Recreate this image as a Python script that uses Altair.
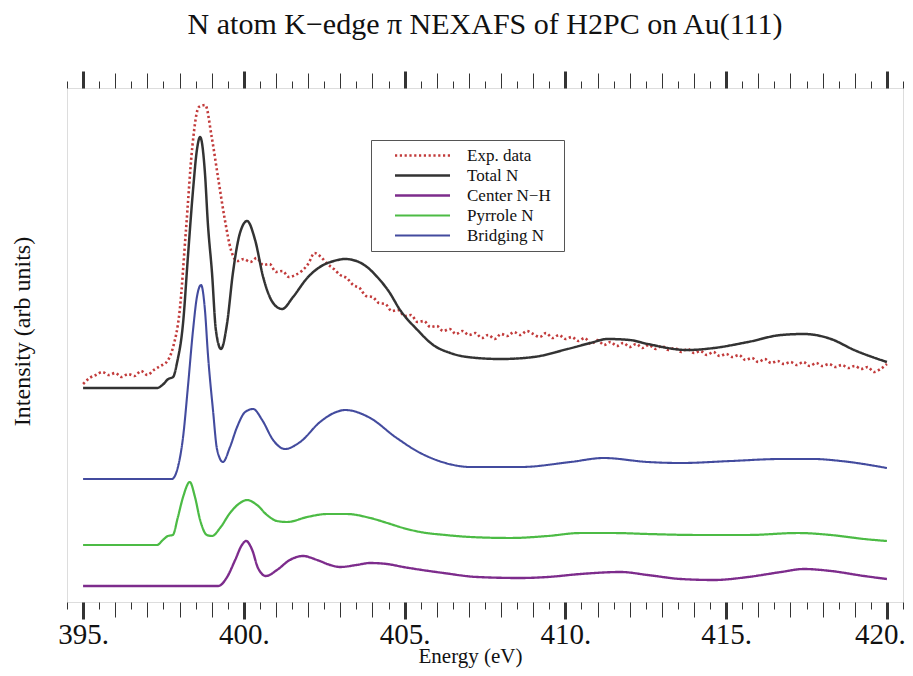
import altair as alt
import pandas as pd

TITLE = "N atom K\u2212edge \u03c0 NEXAFS of H2PC on Au(111)"
X_TITLE = "Energy (eV)"
Y_TITLE = "Intensity (arb units)"

SERIES = ["Exp. data", "Total N", "Center N\u2212H", "Pyrrole N", "Bridging N"]
COLORS = ["#c23b3b", "#333333", "#7d2c8c", "#4cbb45", "#434b9e"]
DASHES = [[2.2, 2.6], [1, 0], [1, 0], [1, 0], [1, 0]]
WIDTHS = [2.6, 2.1, 2.1, 2.1, 2.1]

# Experimental data (sampled every 0.2 eV from 395.0 eV)
exp_intensity = [
    2.18, 2.24, 2.27, 2.30, 2.27, 2.29, 2.25, 2.28, 2.26, 2.31,
    2.27, 2.32, 2.36, 2.40, 2.55, 2.90, 3.72, 4.56, 4.95, 4.97,
    4.65, 4.24, 3.84, 3.52, 3.41, 3.43, 3.40, 3.44, 3.37, 3.38,
    3.30, 3.31, 3.25, 3.27, 3.31, 3.38, 3.49, 3.45, 3.38, 3.33,
    3.27, 3.24, 3.17, 3.14, 3.06, 3.05, 2.99, 2.98, 2.91, 2.92,
    2.86, 2.87, 2.80, 2.81, 2.75, 2.76, 2.71, 2.73, 2.68, 2.71,
    2.67, 2.69, 2.64, 2.67, 2.63, 2.68, 2.66, 2.70, 2.67, 2.71,
    2.68, 2.65, 2.69, 2.64, 2.67, 2.63, 2.65, 2.61, 2.64, 2.58,
    2.62, 2.57, 2.60, 2.56, 2.59, 2.55, 2.58, 2.54, 2.57, 2.53,
    2.56, 2.52, 2.54, 2.50, 2.53, 2.49, 2.51, 2.47, 2.50, 2.46,
    2.48, 2.45, 2.47, 2.42, 2.44, 2.40, 2.43, 2.39, 2.41, 2.38,
    2.40, 2.37, 2.40, 2.36, 2.39, 2.36, 2.38, 2.35, 2.37, 2.34,
    2.36, 2.33, 2.35, 2.30, 2.33, 2.38,
]
exp_energy = [round(395.0 + 0.2 * i, 1) for i in range(len(exp_intensity))]

total_energy = [395.0, 397.3, 397.5, 397.65, 397.8, 397.92, 398.11, 398.26, 398.42, 398.54,
                398.64, 398.79, 398.88, 399.01, 399.13, 399.29, 399.48, 399.66, 399.88, 400.10,
                400.35, 400.60, 400.91, 401.19, 401.53, 401.97, 402.47, 402.8, 403.15, 403.5,
                403.83, 404.15, 404.5, 404.86, 405.40, 405.89, 406.42, 406.95, 407.98, 409.01,
                410.07, 410.78, 411.31, 412.0, 412.56, 413.80, 414.62, 415.68, 416.71, 417.42,
                418.26, 418.98, 420.0]
total_intensity = [2.14, 2.14, 2.18, 2.23, 2.25, 2.39, 2.79, 3.45, 4.12, 4.52,
                   4.65, 4.29, 3.79, 3.29, 2.72, 2.53, 2.79, 3.29, 3.69, 3.81,
                   3.62, 3.25, 2.99, 2.93, 3.05, 3.24, 3.37, 3.41, 3.43, 3.41,
                   3.35, 3.25, 3.11, 2.92, 2.72, 2.57, 2.49, 2.45, 2.43, 2.45,
                   2.53, 2.59, 2.63, 2.62, 2.58, 2.52, 2.54, 2.60, 2.67, 2.68,
                   2.63, 2.52, 2.40]

center_energy = [395.0, 399.20, 399.48, 399.73, 399.94, 400.07, 400.26, 400.44, 400.69, 401.03,
                 401.43, 401.84, 402.28, 402.69, 403.0, 403.5, 403.93, 404.45, 404.96, 406.21,
                 407.26, 408.60, 409.45, 410.47, 411.72, 412.56, 413.59, 414.62, 415.68, 416.71,
                 417.42, 418.26, 419.29, 420.0]
center_intensity = [0.16, 0.16, 0.25, 0.42, 0.57, 0.61, 0.52, 0.34, 0.26, 0.32,
                    0.42, 0.46, 0.42, 0.37, 0.35, 0.37, 0.39, 0.38, 0.35, 0.29,
                    0.25, 0.24, 0.25, 0.28, 0.30, 0.27, 0.23, 0.22, 0.25, 0.30,
                    0.33, 0.31, 0.26, 0.23]

pyrrole_energy = [395.0, 397.3, 397.48, 397.64, 397.79, 397.95, 398.11, 398.32, 398.48, 398.64,
                  398.85, 399.01, 399.26, 399.57, 399.88, 400.10, 400.41, 400.72, 401.03, 401.35,
                  401.97, 402.59, 403.2, 403.93, 404.46, 404.96, 405.49, 406.27, 407.05, 408.29,
                  409.45, 410.47, 411.50, 412.56, 414.12, 415.68, 417.23, 418.26, 419.29, 420.0]
pyrrole_intensity = [0.57, 0.57, 0.62, 0.66, 0.67, 0.85, 1.05, 1.20, 1.05, 0.82,
                     0.67, 0.66, 0.74, 0.89, 0.99, 1.02, 0.97, 0.87, 0.81, 0.80,
                     0.85, 0.88, 0.88, 0.84, 0.79, 0.74, 0.70, 0.67, 0.65, 0.64,
                     0.66, 0.69, 0.69, 0.68, 0.67, 0.67, 0.69, 0.67, 0.63, 0.61]

bridging_energy = [395.0, 397.76, 397.95, 398.11, 398.26, 398.42, 398.54, 398.67, 398.79, 398.88,
                   399.04, 399.17, 399.35, 399.57, 399.79, 400.04, 400.29, 400.57, 400.91, 401.28,
                   401.75, 402.37, 402.8, 403.15, 403.93, 404.71, 405.49, 406.27, 407.05, 408.60,
                   410.16, 411.19, 412.56, 413.59, 415.15, 416.71, 417.73, 418.57, 420.0]
bridging_intensity = [1.23, 1.23, 1.35, 1.65, 2.15, 2.72, 3.05, 3.17, 2.92, 2.49,
                      1.92, 1.52, 1.40, 1.55, 1.75, 1.90, 1.93, 1.82, 1.62, 1.53,
                      1.60, 1.80, 1.89, 1.92, 1.84, 1.65, 1.49, 1.39, 1.35, 1.35,
                      1.40, 1.44, 1.40, 1.39, 1.41, 1.43, 1.43, 1.41, 1.34]

X_DOMAIN = [394.5, 420.5]
Y_DOMAIN = [0, 5.14]
TICK_VALUES = [394.5 + 0.5 * i for i in range(53)]

rows = []
for name, es, vs in [
    (SERIES[0], exp_energy, exp_intensity),
    (SERIES[1], total_energy, total_intensity),
    (SERIES[2], center_energy, center_intensity),
    (SERIES[3], pyrrole_energy, pyrrole_intensity),
    (SERIES[4], bridging_energy, bridging_intensity),
]:
    for e, v in zip(es, vs):
        rows.append({"series": name, "energy": e, "intensity": v})
df = pd.DataFrame(rows)

FONT = "Liberation Serif"
tick_size = {"condition": [{"test": "datum.value % 5 === 0", "value": 17},
                           {"test": "datum.value % 1 === 0", "value": 15}],
             "value": 7}
tick_width = {"condition": {"test": "datum.value % 5 === 0", "value": 3}, "value": 1}
label_offset = {"condition": {"test": "datum.value === 420", "value": -7}, "value": 0}

bottom_axis = alt.Axis(
    orient="bottom", values=TICK_VALUES, title=X_TITLE,
    labelExpr="datum.value % 5 === 0 ? format(datum.value, 'd') + '.' : ''",
    tickSize=tick_size, tickWidth=tick_width, tickColor="#333333",
    domain=False, grid=False, labelOverlap=False, labelFlush=False,
    labelFont=FONT, labelFontSize=29, labelColor="#111111", labelPadding=1,
    labelOffset=label_offset,
    titleFont=FONT, titleFontSize=21, titleFontWeight="normal", titleColor="#111111",
    titlePadding=-4, titleX=403,
)
top_axis = alt.Axis(
    orient="top", values=TICK_VALUES, title="", labels=False,
    tickSize=tick_size, tickWidth=tick_width, tickColor="#333333",
    domain=False, grid=False,
)
y_axis = alt.Axis(
    orient="left", title=Y_TITLE, labels=False, ticks=False, domain=False, grid=False,
    titleFont=FONT, titleFontSize=24, titleFontWeight="normal", titleColor="#111111",
    titlePadding=33, titleY=243,
)

xscale = alt.Scale(domain=X_DOMAIN, nice=False, zero=False)
yscale = alt.Scale(domain=Y_DOMAIN, nice=False, zero=False)

legend = alt.Legend(
    orient="none", legendX=304, legendY=52,
    title="\u00a0", titleOrient="right", titleFontSize=17, titlePadding=6,
    strokeColor="#555555", fillColor="white", padding=7,
    symbolType="M-5,0H5", symbolSize=121, symbolStrokeWidth=2, symbolOffset=36,
    symbolFillColor="transparent",
    labelFont=FONT, labelFontSize=17, labelColor="#111111", labelOffset=36,
    rowPadding=2,
)

lines = alt.Chart(df).mark_line(interpolate="monotone").encode(
    x=alt.X("energy:Q", scale=xscale, axis=bottom_axis),
    y=alt.Y("intensity:Q", scale=yscale, axis=y_axis),
    color=alt.Color("series:N", scale=alt.Scale(domain=SERIES, range=COLORS), legend=legend),
    strokeDash=alt.StrokeDash("series:N", scale=alt.Scale(domain=SERIES, range=DASHES), legend=legend),
    strokeWidth=alt.StrokeWidth("series:N", scale=alt.Scale(domain=SERIES, range=WIDTHS), legend=None),
)

top = alt.Chart(df).mark_line(opacity=0).encode(
    x=alt.X("energy:Q", scale=xscale, axis=top_axis),
    y=alt.Y("intensity:Q", scale=yscale, axis=y_axis),
    detail="series:N",
)

chart = alt.layer(lines, top).resolve_axis(x="independent").properties(
    width=836, height=514,
    title=alt.TitleParams(TITLE, font=FONT, fontSize=30, fontWeight="normal", color="#111111",
                          anchor="middle", offset=30),
    padding={"left": 59, "top": 80, "right": 2, "bottom": 66},
    autosize="none",
).configure_view(stroke="#444444", strokeWidth=1.5).configure(background="white")

chart.save("out.html", embed_options={"renderer": "svg", "actions": False})
